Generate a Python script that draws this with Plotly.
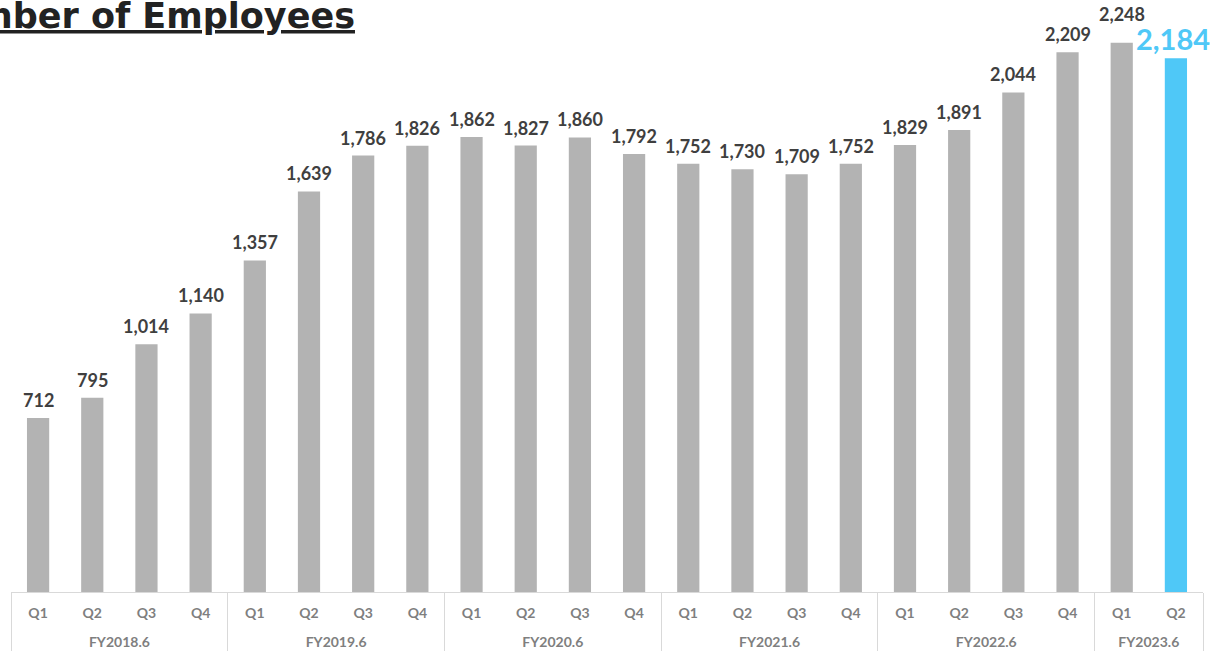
import plotly.graph_objects as go

# Fiscal-year groups and quarters
fiscal_years = ["FY2018.6"] * 4 + ["FY2019.6"] * 4 + ["FY2020.6"] * 4 + \
               ["FY2021.6"] * 4 + ["FY2022.6"] * 4 + ["FY2023.6"] * 2
quarters = ["Q1", "Q2", "Q3", "Q4"] * 5 + ["Q1", "Q2"]

# Headcount at each quarter end
employees = [712, 795, 1014, 1140,
             1357, 1639, 1786, 1826,
             1862, 1827, 1860, 1792,
             1752, 1730, 1709, 1752,
             1829, 1891, 2044, 2209,
             2248, 2184]

GRAY = "#b3b3b3"
BLUE = "#4fc8f7"
LABEL = "#3f3f3f"
n = len(employees)
colors = [GRAY] * (n - 1) + [BLUE]

# outer group labels sit one line below the quarter labels
group_labels = [" <br>" + fy for fy in fiscal_years]

fig = go.Figure(
    go.Bar(
        x=[group_labels, quarters],
        y=employees,
        marker=dict(color=colors, line=dict(width=0)),
        hoverinfo="skip",
    )
)

# value labels above each bar; the latest quarter is highlighted,
# and the one before it is lifted to clear the larger label
for i, v in enumerate(employees):
    latest = i == n - 1
    lift = 29 if i == n - 2 else (20 if latest else 18)
    fig.add_annotation(
        x=i, y=v, xref="x", yref="y",
        text=f"<b>{v:,}</b>",
        showarrow=False,
        yanchor="middle", yshift=lift,
        xshift=-3 if latest else 0,
        font=dict(family="Lato", size=29 if latest else 18,
                  color=BLUE if latest else LABEL),
    )

fig.add_annotation(
    text="<b><u>Number of Employees</u></b>",
    xref="paper", yref="paper",
    x=0.2903, y=1.0, xanchor="right", yanchor="top",
    yshift=11,
    showarrow=False,
    font=dict(family="DejaVu Sans", size=35, color="#222222"),
)

fig.update_layout(
    width=1219, height=652,
    margin=dict(l=11, r=16, t=5, b=60, autoexpand=False),
    paper_bgcolor="white",
    plot_bgcolor="white",
    bargap=0.59,
    showlegend=False,
    xaxis=dict(
        type="multicategory",
        range=[-0.5, n - 0.5],
        automargin=False,
        showline=True, linecolor="#d9d9d9", linewidth=1,
        showdividers=True, dividercolor="#d9d9d9", dividerwidth=1,
        ticks="",
        ticklabelstandoff=8,
        tickfont=dict(family="Lato", size=14, color="#7f7f7f", weight="bold"),
        showgrid=False,
    ),
    yaxis=dict(range=[0, 2402], visible=False, showgrid=False, zeroline=False,
               automargin=False),
)

fig.write_html("out.html")
